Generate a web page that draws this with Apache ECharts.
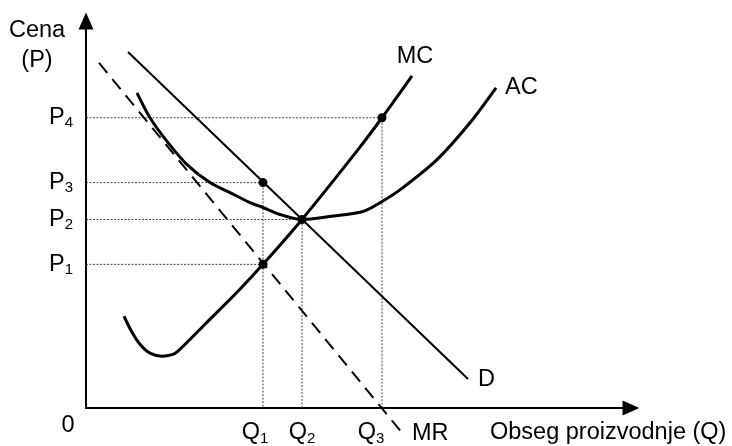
<!DOCTYPE html>
<html><head><meta charset="utf-8">
<script src="https://cdn.jsdelivr.net/npm/echarts@6/dist/echarts.min.js"></script>
<style>html,body{margin:0;padding:0;background:#fff}#c{width:732px;height:446px}</style>
</head><body><div id="c"></div>
<script>
// Quantities (Q1, Q2, Q3) and prices (P1..P4) in diagram units
const qValues = [177, 216, 296];
const pValues = [144, 189, 226, 291];
const qSubs = ['1', '2', '3'];
const pSubs = ['1', '2', '3', '4'];

// Curves [Q, P]
const demandD = [[42, 357], [382, 29]];
const marginalRevenueMR = [[13, 346], [317, -26]];
const marginalCostMC = [[38, 92], [46, 76], [54, 64], [64, 55], [76, 52], [86, 53.5], [92, 57], [119, 84], [152, 117], [177, 144], [216, 189], [272, 259], [296, 291], [326, 333]];
const averageCostAC = [[51, 316], [64, 291], [82, 266], [101, 244], [124, 226], [144, 216], [164, 206], [177, 201], [194, 194], [216, 189], [244, 192], [277, 197], [296, 207], [317, 221], [351, 249], [384, 286], [410, 321]];

// Marked points: (Q1,P3) on D, (Q1,P1) on MC, (Q2,P2), (Q3,P4)
const keyPoints = [[qValues[0], pValues[2]], [qValues[0], pValues[0]], [qValues[1], pValues[1]], [qValues[2], pValues[3]]];

const guides = [
  [[0, pValues[3]], [qValues[2], pValues[3]], [qValues[2], 0]],
  [[0, pValues[2]], [qValues[0], pValues[2]], [qValues[0], 0]],
  [[0, pValues[1]], [qValues[1], pValues[1]], [qValues[1], 0]],
  [[0, pValues[0]], [qValues[0], pValues[0]]]
];

const FONT = 'Liberation Sans, Arial, sans-serif';
const FS = 23.5;
const chart = echarts.init(document.getElementById('c'), null, {renderer: 'canvas'});

const guideSeries = guides.map(g => ({
  type: 'line', data: g, symbol: 'none', silent: true, z: 1,
  lineStyle: {color: '#444', width: 1, type: [2, 1.5]}
}));

function endLab(text, distance, padding, align, vAlign) {
  return {show: true, formatter: text, distance: distance, color: '#000', fontSize: FS, fontFamily: FONT,
    padding: padding, align: align, verticalAlign: vAlign};
}

chart.setOption({
  animation: false,
  textStyle: {fontFamily: FONT},
  grid: {left: 86, right: 101, top: 21, bottom: 37},
  xAxis: {
    type: 'value', min: 0, max: 545,
    splitLine: {show: false}, axisTick: {show: false},
    axisLine: {lineStyle: {color: '#000', width: 2}, symbol: ['none', 'triangle'], symbolSize: [15, 17]},
    axisLabel: {
      customValues: qValues, margin: 12, color: '#000',
      formatter: v => { const i = qValues.indexOf(v); return '{q|Q}{s' + i + '|' + qSubs[i] + '}'; },
      rich: {
        q: {fontSize: FS, lineHeight: 26},
        s0: {fontSize: 15, lineHeight: 16, verticalAlign: 'bottom', padding: [0, 16, 0, 0]},
        s1: {fontSize: 15, lineHeight: 16, verticalAlign: 'bottom'},
        s2: {fontSize: 15, lineHeight: 16, verticalAlign: 'bottom', padding: [0, 22, 0, 0]}
      }
    }
  },
  yAxis: {
    type: 'value', min: 0, max: 388,
    splitLine: {show: false}, axisTick: {show: false},
    axisLine: {lineStyle: {color: '#000', width: 2}, symbol: ['none', 'triangle'], symbolSize: [15, 17]},
    axisLabel: {
      customValues: pValues, margin: 13, color: '#000',
      formatter: v => { const i = pValues.indexOf(v); return '{p|P}{s|' + pSubs[i] + '}'; },
      rich: {
        p: {fontSize: FS, lineHeight: 26},
        s: {fontSize: 15, lineHeight: 16, verticalAlign: 'bottom'}
      }
    }
  },
  graphic: [
    {type: 'text', x: 37, y: 46, style: {text: 'Cena\n(P)', fontSize: FS, fontFamily: FONT, lineHeight: 30, fill: '#000', align: 'center', verticalAlign: 'middle'}},
    {type: 'text', x: 68, y: 426, style: {text: '0', fontSize: FS, fontFamily: FONT, fill: '#000', align: 'center', verticalAlign: 'middle'}},
    {type: 'text', x: 490, y: 433, style: {text: 'Obseg proizvodnje (Q)', fontSize: FS, fontFamily: FONT, fill: '#000', align: 'left', verticalAlign: 'middle'}}
  ],
  series: guideSeries.concat([
    {type: 'line', name: 'D', data: demandD, symbol: 'none', z: 3,
      lineStyle: {color: '#000', width: 2},
      endLabel: endLab('D', 10, [7, 0, 0, 0], 'left', 'middle')},
    {type: 'line', name: 'MR', data: marginalRevenueMR, symbol: 'none', clip: false, z: 3,
      lineStyle: {color: '#000', width: 2, type: [13, 8]},
      endLabel: endLab('MR', 9, [0, 0, 0, 0], 'left', 'middle')},
    {type: 'line', name: 'MC', data: marginalCostMC, symbol: 'none', smooth: 0.3, z: 4,
      lineStyle: {color: '#000', width: 3},
      endLabel: endLab('MC', 3, [0, 0, 7, 0], 'center', 'bottom')},
    {type: 'line', name: 'AC', data: averageCostAC, symbol: 'none', smooth: 0.3, z: 4,
      lineStyle: {color: '#000', width: 3},
      endLabel: endLab('AC', 9, [0, 0, 16, 0], 'left', 'middle')},
    {type: 'scatter', data: keyPoints, symbol: 'circle', symbolSize: 9, z: 10, itemStyle: {color: '#000', opacity: 1}}
  ])
});
</script>
</body></html>
